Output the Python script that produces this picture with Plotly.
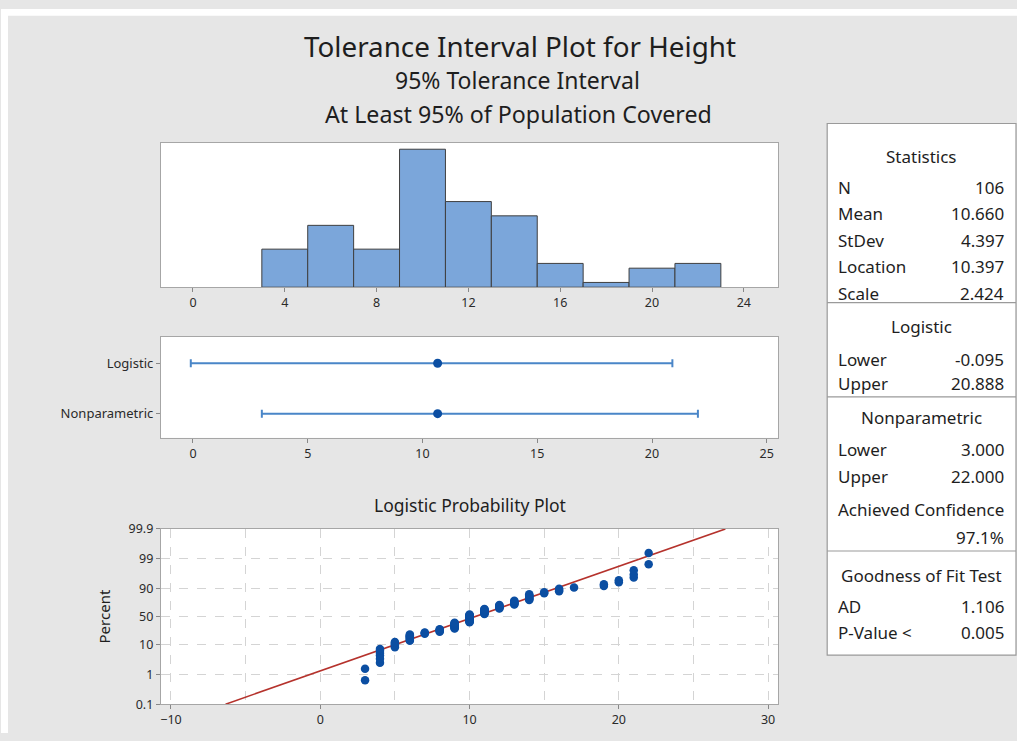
import numpy as np
import plotly.graph_objects as go

# ---------------- data ----------------
height_values = [3, 4, 5, 6, 7, 8, 9, 10, 11, 12, 13, 14, 15, 16, 17, 19, 20, 21, 22]
height_counts = [2, 6, 5, 8, 3, 5, 12, 17, 11, 7, 7, 8, 2, 3, 1, 2, 2, 3, 2]
hist_bin_start = 3
hist_bin_end = 23
hist_bin_size = 2

interval_methods = ["Logistic", "Nonparametric"]
interval_lower = [-0.095, 3.000]
interval_upper = [20.888, 22.000]
interval_center = [10.660, 10.660]

fit_location = 10.397
fit_scale = 2.424

prob_tick_pct = [0.1, 1, 10, 50, 90, 99, 99.9]
prob_tick_labels = ["0.1", "1", "10", "50", "90", "99", "99.9"]

hist_ticks = [0, 4, 8, 12, 16, 20, 24]
interval_ticks = [0, 5, 10, 15, 20, 25]
prob_x_ticks = [-10, 0, 10, 20, 30]

stats_labels = ["N", "Mean", "StDev", "Location", "Scale"]
stats_values = ["106", "10.660", "4.397", "10.397", "2.424"]
logistic_labels = ["Lower", "Upper"]
logistic_values = ["-0.095", "20.888"]
nonpar_labels = ["Lower", "Upper"]
nonpar_values = ["3.000", "22.000"]
achieved_conf = "97.1%"
gof_labels = ["AD", "P-Value <"]
gof_values = ["1.106", "0.005"]

# ---------------- derived ----------------
data = np.repeat(height_values, height_counts).astype(float)
n = len(data)
edges = np.arange(hist_bin_start, hist_bin_end + 0.001, hist_bin_size)
bin_counts, _ = np.histogram(data, bins=edges)
bin_mids = (edges[:-1] + edges[1:]) / 2

sorted_data = np.sort(data)
ranks = np.arange(1, n + 1)
median_rank = (ranks - 0.3) / (n + 0.4)
logit = lambda p: np.log(p / (1 - p))
prob_y = logit(median_rank)
prob_tick_vals = [float(logit(p / 100.0)) for p in prob_tick_pct]
ymin_l, ymax_l = prob_tick_vals[0], prob_tick_vals[-1]
fit_x = [fit_location + fit_scale * ymin_l, fit_location + fit_scale * ymax_l]
fit_y = [ymin_l, ymax_l]

# ---------------- geometry helpers ----------------
W, H = 1017, 741
YC, YK = 400.0, 0.976   # vertical calibration of the photographed page


def fx(X):
    return X / W


def fy(Y):
    Yi = YC + (Y - YC) / YK
    return 1 - Yi / H


FONT = "Noto Sans"
TXT = "#1e1e1e"
TICKC = "#2a2a2a"
FRAME = "#a6a6a6"
BLUE_FILL = "#7BA6DA"
DOT = "#0B4EA2"
LINE_BLUE = "#4A86C8"
RED = "#B5322C"

fig = go.Figure()

# histogram
fig.add_trace(go.Bar(
    x=bin_mids, y=bin_counts, width=hist_bin_size,
    marker=dict(color=BLUE_FILL, line=dict(color="#3f3f3f", width=1)),
    xaxis="x", yaxis="y", showlegend=False, hoverinfo="skip"))

# interval plot
ci = np.array(interval_center)
fig.add_trace(go.Scatter(
    x=interval_center, y=[0, 1], mode="markers",
    marker=dict(color=DOT, size=9),
    error_x=dict(type="data", symmetric=False,
                 array=list(np.array(interval_upper) - ci),
                 arrayminus=list(ci - np.array(interval_lower)),
                 color=LINE_BLUE, thickness=2, width=4),
    xaxis="x2", yaxis="y2", showlegend=False, hoverinfo="skip"))

# probability plot
fig.add_trace(go.Scatter(
    x=fit_x, y=fit_y, mode="lines", line=dict(color=RED, width=1.6),
    xaxis="x3", yaxis="y3", showlegend=False, hoverinfo="skip"))
fig.add_trace(go.Scatter(
    x=sorted_data, y=prob_y, mode="markers",
    marker=dict(color=DOT, size=8.5),
    xaxis="x3", yaxis="y3", showlegend=False, hoverinfo="skip"))

xdom = [fx(160), fx(778)]
tickfont = dict(family=FONT, size=12.5, color=TICKC)
ytickfont = dict(family=FONT, size=13, color=TICKC)
common_frame = dict(showline=True, linecolor=FRAME, linewidth=1, mirror=True,
                    zeroline=False)

fig.update_layout(
    width=W, height=H,
    margin=dict(l=0, r=0, t=0, b=0),
    paper_bgcolor="#e6e6e6", plot_bgcolor="white",
    font=dict(family=FONT, color=TXT),
    xaxis=dict(domain=xdom, anchor="y", range=[-1.4, 25.5], tickvals=hist_ticks,
               ticks="outside", ticklen=4, tickcolor="#888888", tickfont=tickfont,
               showgrid=False, **common_frame),
    yaxis=dict(domain=[fy(287.5), fy(143.5)], anchor="x", range=[0, 30.3],
               showticklabels=False, showgrid=False, ticks="", **common_frame),
    xaxis2=dict(domain=xdom, anchor="y2", range=[-1.4, 25.5], tickvals=interval_ticks,
                ticks="outside", ticklen=4, tickcolor="#888888", tickfont=tickfont,
                showgrid=False, **common_frame),
    yaxis2=dict(domain=[fy(438), fy(337)], anchor="x2", range=[1.48, -0.525],
                tickvals=[0, 1], ticktext=interval_methods, ticks="outside",
                ticklen=4, tickcolor="#888888", tickfont=ytickfont,
                showgrid=False, **common_frame),
    xaxis3=dict(domain=xdom, anchor="y3", range=[-10.68, 30.68], tickvals=prob_x_ticks,
                ticks="outside", ticklen=4, tickcolor="#888888", tickfont=tickfont,
                showgrid=True, gridcolor="#d4d4d4", griddash="dash", gridwidth=1,
                minor=dict(dtick=5, tick0=0, showgrid=True, gridcolor="#d4d4d4",
                           griddash="dash", ticks=""),
                **common_frame),
    yaxis3=dict(domain=[fy(704), fy(529)], anchor="x3", range=[ymin_l, ymax_l],
                tickvals=prob_tick_vals, ticktext=prob_tick_labels,
                ticks="outside", ticklen=4, tickcolor="#888888", tickfont=tickfont,
                showgrid=True, gridcolor="#d4d4d4", griddash="dash", gridwidth=1,
                title=dict(text="Percent", font=dict(family=FONT, size=15, color=TXT),
                           standoff=14),
                **common_frame),
)

ann = []


def text(X, Y, s, size, anchor="center", color=TXT):
    ann.append(dict(x=fx(X), y=fy(Y), xref="paper", yref="paper", text=s,
                    showarrow=False, xanchor=anchor, yanchor="middle",
                    font=dict(family=FONT, size=size, color=color)))


# titles
text(520, 47, "Tolerance Interval Plot for Height", 27.8)
text(517, 81, "95% Tolerance Interval", 23)
text(518, 114, "At Least 95% of Population Covered", 23.2)
text(469, 505, "Logistic Probability Plot", 17.5)

# white outer strips (top, left) + statistics table
shapes = [
    dict(type="rect", xref="paper", yref="paper", x0=0, x1=1, y0=1 - 7 / H, y1=1,
         fillcolor="white", line=dict(width=0), layer="below"),
    dict(type="rect", xref="paper", yref="paper", x0=0, x1=fx(7), y0=0, y1=1,
         fillcolor="white", line=dict(width=0), layer="below"),
    dict(type="rect", xref="paper", yref="paper",
         x0=fx(827), x1=fx(1016), y0=fy(655), y1=fy(124),
         fillcolor="white", line=dict(color="#9a9a9a", width=1.2), layer="below"),
]
for yl in [303, 397, 551]:
    shapes.append(dict(type="line", xref="paper", yref="paper",
                       x0=fx(827), x1=fx(1016), y0=fy(yl), y1=fy(yl),
                       line=dict(color="#9a9a9a", width=1.2)))

LX, RX, CX = 836, 1006, 921
TS = 17
text(CX, 157, "Statistics", TS)
for yy, lab, val in zip([188, 214, 241, 267, 294], stats_labels, stats_values):
    text(LX, yy, lab, TS, "left")
    text(RX, yy, val, TS, "right")
text(CX, 327, "Logistic", TS)
for yy, lab, val in zip([360, 384], logistic_labels, logistic_values):
    text(LX, yy, lab, TS, "left")
    text(RX, yy, val, TS, "right")
text(CX, 418, "Nonparametric", TS)
for yy, lab, val in zip([450, 477], nonpar_labels, nonpar_values):
    text(LX, yy, lab, TS, "left")
    text(RX, yy, val, TS, "right")
text(CX, 510, "Achieved Confidence", TS)
text(RX, 538, achieved_conf, TS, "right")
text(CX, 575, "Goodness of Fit Test", TS)
for yy, lab, val in zip([606, 632], gof_labels, gof_values):
    text(LX, yy, lab, TS, "left")
    text(RX, yy, val, TS, "right")

fig.update_layout(annotations=ann, shapes=shapes)

fig.write_html(
    "out.html",
    config={"displayModeBar": False},
    post_script="document.body.style.margin='0';document.body.style.overflow='hidden';",
)
